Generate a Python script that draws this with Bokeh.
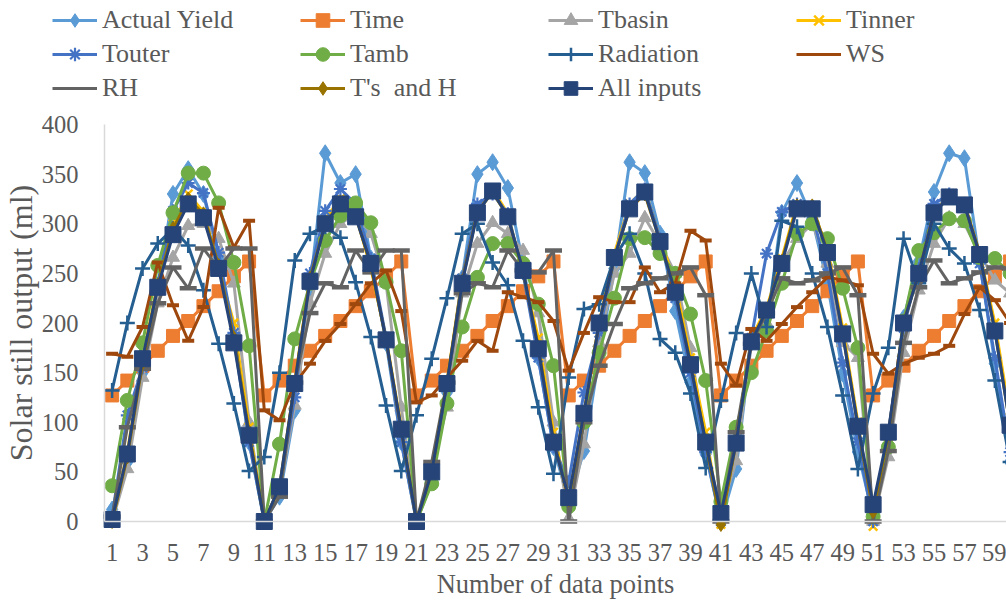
from bokeh.plotting import figure
from bokeh.models import Range1d, FixedTicker, Legend, LegendItem
from bokeh.embed import file_html
from bokeh.resources import INLINE

# ---------------- data ----------------
points = list(range(1, 61))
x_ticks = list(range(1, 60, 2))
y_ticks = list(range(0, 401, 50))

actual_yield = [12, 60, 150, 235, 330, 355, 330, 265, 185, 80,
                0, 25, 112, 235, 371, 341, 350, 265, 180, 80,
                0, 40, 130, 245, 350, 362, 336, 260, 165, 75,
                20, 71, 165, 255, 362, 351, 290, 212, 140, 68,
                0, 53, 180, 195, 311, 341, 305, 240, 149, 70,
                5, 75, 205, 262, 332, 371, 366, 262, 159, 60]
time_in = [127, 142, 157, 172, 187, 202, 217, 232, 247, 262,
           127, 142, 157, 172, 187, 202, 217, 232, 247, 262,
           127, 142, 157, 172, 187, 202, 217, 232, 247, 262,
           127, 142, 157, 172, 187, 202, 217, 232, 247, 262,
           127, 142, 157, 172, 187, 202, 217, 232, 247, 262,
           127, 142, 157, 172, 187, 202, 217, 232, 247, 262]
tbasin = [0, 53, 145, 220, 266, 298, 300, 285, 240, 100,
          0, 30, 117, 220, 270, 300, 310, 290, 240, 115,
          0, 55, 115, 230, 280, 301, 290, 273, 210, 100,
          3, 78, 180, 250, 270, 306, 280, 250, 175, 75,
          10, 61, 180, 200, 260, 285, 300, 260, 180, 165,
          0, 65, 170, 233, 280, 306, 300, 270, 243, 230]
tinner = [0, 70, 165, 240, 300, 330, 312, 255, 200, 95,
          0, 30, 140, 245, 305, 325, 310, 255, 185, 95,
          0, 45, 140, 245, 315, 335, 310, 250, 185, 90,
          20, 110, 200, 270, 320, 335, 285, 240, 165, 90,
          -3, 80, 185, 215, 265, 320, 315, 275, 195, 100,
          -5, 85, 200, 255, 315, 325, 320, 270, 200, 105]
touter = [5, 107, 155, 240, 313, 341, 331, 271, 190, 80,
          0, 35, 125, 250, 313, 335, 320, 265, 185, 80,
          0, 45, 135, 245, 320, 330, 310, 250, 165, 75,
          40, 130, 190, 265, 320, 335, 285, 225, 150, 70,
          0, 80, 185, 270, 312, 320, 310, 250, 160, 80,
          0, 90, 195, 255, 320, 330, 320, 260, 165, 70]
tamb = [36, 122, 180, 258, 311, 351, 351, 321, 261, 177,
        0, 78, 184, 240, 283, 308, 321, 301, 241, 172,
        0, 38, 119, 196, 246, 280, 280, 260, 219, 157,
        15, 100, 170, 225, 285, 286, 270, 250, 209, 142,
        20, 95, 150, 192, 240, 290, 300, 285, 235, 175,
        5, 75, 202, 273, 291, 305, 303, 266, 265, 250]
radiation = [132, 200, 255, 280, 295, 278, 233, 179, 119, 51,
             65, 150, 263, 290, 297, 286, 241, 186, 117, 51,
             107, 164, 225, 290, 300, 261, 238, 182, 115, 48,
             145, 214, 219, 266, 290, 250, 184, 170, 129, 54,
             122, 190, 250, 196, 303, 297, 250, 196, 127, 53,
             129, 175, 285, 240, 300, 275, 260, 213, 142, 60]
ws = [169, 166, 196, 261, 218, 182, 216, 316, 276, 303,
      112, 102, 139, 159, 182, 199, 219, 240, 253, 212,
      120, 127, 145, 162, 182, 172, 231, 226, 221, 202,
      152, 190, 226, 221, 221, 256, 231, 240, 293, 283,
      159, 137, 194, 182, 199, 216, 231, 246, 243, 238,
      169, 149, 159, 165, 169, 177, 209, 236, 223, 200]
rh = [5, 95, 154, 220, 256, 235, 275, 255, 275, 275,
      0, 25, 140, 210, 240, 236, 273, 251, 273, 273,
      0, 60, 140, 230, 240, 236, 273, 253, 251, 273,
      0, 100, 157, 199, 235, 240, 245, 250, 256, 228,
      0, 90, 179, 210, 245, 240, 243, 250, 256, 228,
      0, 71, 180, 236, 263, 240, 245, 251, 256, 255]
ts_and_h = [0, 65, 160, 238, 295, 325, 310, 258, 185, 90,
            0, 35, 140, 245, 300, 322, 308, 258, 183, 92,
            0, 50, 140, 242, 312, 332, 307, 252, 176, 82,
            22, 108, 200, 265, 315, 330, 282, 232, 160, 80,
            -3, 80, 182, 213, 262, 318, 318, 272, 190, 96,
            10, 88, 200, 250, 312, 326, 320, 270, 193, 97]
all_inputs = [2, 68, 164, 236, 289, 320, 306, 255, 180, 87,
              0, 35, 139, 242, 300, 320, 307, 260, 183, 93,
              0, 50, 139, 240, 311, 333, 307, 253, 174, 80,
              24, 109, 200, 266, 315, 332, 282, 231, 158, 80,
              8, 79, 181, 213, 260, 315, 315, 271, 189, 96,
              17, 90, 200, 250, 311, 327, 319, 269, 192, 97]

labels = ["Actual Yield", "Time", "Tbasin", "Tinner", "Touter", "Tamb",
          "Radiation", "WS", "RH", "T's  and H", "All inputs"]
values = [actual_yield, time_in, tbasin, tinner, touter, tamb,
          radiation, ws, rh, ts_and_h, all_inputs]

# styles: colour, marker, size, marker line width, marker in legend
styles = [
    ("#5B9BD5", "diamond", 17, 1, True),
    ("#ED7D31", "square", 13, 1, True),
    ("#A5A5A5", "triangle", 13, 1, True),
    ("#FFC000", "x", 12, 2.5, True),
    ("#4472C4", "asterisk", 13, 2.2, True),
    ("#70AD47", "circle", 14, 1, True),
    ("#255E91", "cross", 15, 2.5, True),
    ("#9E480E", "dash", 12, 4, False),
    ("#636363", "dash", 17, 4.5, False),
    ("#997300", "diamond", 14, 1, True),
    ("#264478", "square", 16, 1, True),
]

FONT = "Liberation Serif"
TXT = "#595959"

# the frame covers the whole figure; both axes sit at fixed data locations
W, H = 1006, 604
PX_PER_X = 15.22
PX_PER_Y = 0.9925
AXIS_LEFT_PX = 104     # where x = 0.5 falls
AXIS_BOTTOM_PX = 521   # where y = 0 falls (from top)
x_start = 0.5 - AXIS_LEFT_PX / PX_PER_X
x_end = x_start + W / PX_PER_X
y_start = -(H - AXIS_BOTTOM_PX) / PX_PER_Y
y_end = y_start + H / PX_PER_Y

p = figure(width=W, height=H,
           x_range=Range1d(x_start, x_end), y_range=Range1d(y_start, y_end),
           output_backend="svg", toolbar_location=None,
           min_border_left=0, min_border_right=0,
           min_border_top=0, min_border_bottom=0)
p.outline_line_color = None
p.xgrid.visible = False
p.ygrid.visible = False

items = []
for lab, vals, (col, mk, sz, mlw, in_leg) in zip(labels, values, styles):
    fill = None if mk in ("x", "asterisk", "cross", "dash") else col
    lr = p.line(points, vals, line_color=col, line_width=3)
    sr = p.scatter(points, vals, marker=mk, size=sz, line_color=col,
                   fill_color=fill, line_width=mlw)
    items.append(LegendItem(label=lab, renderers=[lr, sr] if in_leg else [lr]))

legend = Legend(items=items, orientation="horizontal", ncols=4,
                location=(52, 499),
                glyph_width=45, glyph_height=34, label_standoff=5,
                label_width=198, label_height=34, spacing=0,
                padding=0, margin=0,
                label_text_font=FONT, label_text_font_size="26px",
                label_text_color=TXT,
                border_line_color=None, background_fill_alpha=0)
p.add_layout(legend, "center")

# axes
xa = p.xaxis[0]
xa.ticker = FixedTicker(ticks=x_ticks)
xa.axis_label = "Number of data points"
xa.bounds = (0.5, 60.5)
xa.fixed_location = 0
ya = p.yaxis[0]
ya.ticker = FixedTicker(ticks=y_ticks)
ya.axis_label = "Solar still output (ml)"
ya.bounds = (0, 400)
ya.fixed_location = 0.5
for ax in (xa, ya):
    ax.major_tick_line_color = None
    ax.minor_tick_line_color = None
    ax.axis_line_color = "#D9D9D9"
    ax.axis_line_width = 1.5
    ax.major_label_text_font = FONT
    ax.major_label_text_font_size = "24.5px"
    ax.major_label_text_color = TXT
    ax.axis_label_text_font = FONT
    ax.axis_label_text_font_style = "normal"
    ax.axis_label_text_color = TXT
xa.major_label_standoff = 16
xa.axis_label_standoff = 5
xa.axis_label_text_font_size = "26.5px"
ya.major_label_standoff = 20
ya.axis_label_standoff = 0
ya.axis_label_text_font_size = "32px"

open("out.html", "w").write(file_html(p, INLINE))
